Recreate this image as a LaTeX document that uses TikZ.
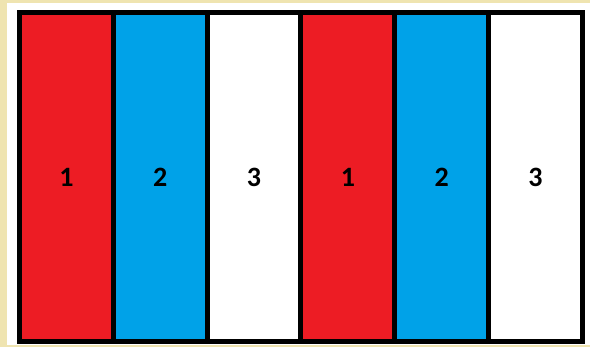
\documentclass[tikz,border=0pt]{standalone}
\usepackage{fontspec}
\setmainfont{Carlito}
\usepackage{xcolor}
\definecolor{paintRed}{RGB}{237, 28, 36}
\definecolor{paintBlue}{RGB}{0, 162, 232}
\definecolor{paintBeige}{RGB}{239, 228, 176}
\usetikzlibrary{positioning}

\begin{document}
\begin{tikzpicture}[x=1pt, y=-1pt,
    stripe/.style={draw=black, line width=5pt, outer sep=0pt, inner sep=0pt,
        minimum width=93.83pt, minimum height=329pt,
        font=\bfseries\fontsize{28}{28}\selectfont}]
    \useasboundingbox (0,0) rectangle (590,347);
    \fill[paintBeige] (0,0) rectangle (590,347);
    \fill[white] (7,3) rectangle (590,345);
    \node[stripe, fill=paintRed] (red1) at (66.42,177) {1};
    \node[stripe, fill=paintBlue, right=0pt of red1] (blue1) {2};
    \node[stripe, fill=white, right=0pt of blue1] (white1) {3};
    \node[stripe, fill=paintRed, right=0pt of white1] (red2) {1};
    \node[stripe, fill=paintBlue, right=0pt of red2] (blue2) {2};
    \node[stripe, fill=white, right=0pt of blue2] (white2) {3};
\end{tikzpicture}
\end{document}
